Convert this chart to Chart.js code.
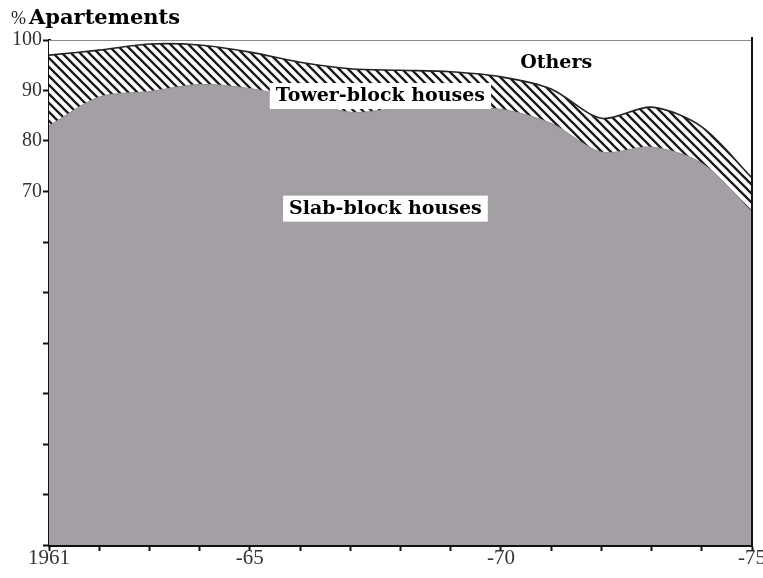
<!DOCTYPE html>
<html>
<head>
<meta charset="UTF-8">
<title>Apartements</title>
<style>
  html, body { margin: 0; padding: 0; background: #fff; }
  #chart { display: block; }
</style>
<script src="https://cdn.jsdelivr.net/npm/chart.js"></script>
</head>
<body>
<canvas id="chart" width="763" height="578"></canvas>
<script>
// data (share of apartements, %)
const years = [1961, 1962, 1963, 1964, 1965, 1966, 1967, 1968, 1969, 1970, 1971, 1972, 1973, 1974, 1975];
const slabBlock  = [83, 88.7, 89.8, 91.2, 90.4, 88.3, 85.7, 86.5, 86.5, 86.3, 83.5, 77.8, 78.8, 75.6, 66];
const towerBlock = [14, 9.3, 9.4, 7.8, 7.2, 7.3, 8.6, 7.5, 7.2, 6.4, 6.8, 6.7, 7.9, 7.2, 6.7];
const others     = [3, 2, 0.8, 1, 2.4, 4.4, 5.7, 6, 6.3, 7.3, 9.7, 15.5, 13.3, 17.2, 27.3];

const yLabelValues = [70, 80, 90, 100];
const xLabelYears = [1961, 1965, 1970, 1975];
const xLabelTexts = ['1961', '-65', '-70', '-75'];

// text labels placed in data coordinates [year, value]
const seriesLabels = [
  { text: 'Others', at: [1971.1, 95.4], box: false },
  { text: 'Tower-block houses', at: [1967.6, 88.9], box: true },
  { text: 'Slab-block houses', at: [1967.7, 66.6], box: true }
];

function hatch() {
  const c = document.createElement('canvas');
  c.width = 9; c.height = 9;
  const g = c.getContext('2d');
  g.fillStyle = '#fff';
  g.fillRect(0, 0, 9, 9);
  g.strokeStyle = '#1a1a1a';
  g.lineWidth = 2.3;
  g.beginPath();
  g.moveTo(-2, -2); g.lineTo(11, 11);
  g.moveTo(-2, 7); g.lineTo(2, 11);
  g.moveTo(7, -2); g.lineTo(11, 2);
  g.stroke();
  return g.createPattern(c, 'repeat');
}

const labelFont = 'bold 19px "DejaVu Serif", serif';

const decorations = {
  id: 'decorations',
  afterDatasetsDraw(chart) {
    const { ctx, chartArea, scales } = chart;
    ctx.save();
    // right frame line
    ctx.strokeStyle = '#111';
    ctx.lineWidth = 2;
    ctx.beginPath();
    ctx.moveTo(chartArea.right, chartArea.top - 3);
    ctx.lineTo(chartArea.right, chartArea.bottom);
    ctx.stroke();

    ctx.font = labelFont;
    ctx.textAlign = 'center';
    ctx.textBaseline = 'middle';
    seriesLabels.forEach(l => {
      const x = scales.x.getPixelForValue(l.at[0]);
      const y = scales.y.getPixelForValue(l.at[1]);
      if (l.box) {
        const w = ctx.measureText(l.text).width + 12;
        ctx.fillStyle = '#fff';
        ctx.fillRect(x - w / 2, y - 13, w, 26);
      }
      ctx.fillStyle = '#000';
      ctx.fillText(l.text, x, y);
    });

    // axis title
    ctx.textAlign = 'left';
    ctx.textBaseline = 'alphabetic';
    ctx.font = '18px "Liberation Serif", serif';
    ctx.fillStyle = '#222';
    ctx.fillText('%', 11, 24);
    ctx.font = 'bold 21px "DejaVu Serif", serif';
    ctx.fillStyle = '#000';
    ctx.fillText('Apartements', 29, 24);
    ctx.restore();
  }
};

new Chart(document.getElementById('chart'), {
  type: 'line',
  data: {
    labels: years,
    datasets: [
      {
        label: 'Slab-block houses',
        data: years.map((y, i) => ({ x: y, y: slabBlock[i] })),
        fill: 'origin',
        backgroundColor: '#a39fa4',
        borderColor: '#8f8b90',
        borderWidth: 1,
        pointRadius: 0,
        tension: 0.3
      },
      {
        label: 'Tower-block houses',
        data: years.map((y, i) => ({ x: y, y: towerBlock[i] })),
        fill: '-1',
        backgroundColor: hatch(),
        borderColor: '#222',
        borderWidth: 1.6,
        pointRadius: 0,
        tension: 0.3
      },
      {
        label: 'Others',
        data: years.map((y, i) => ({ x: y, y: others[i] })),
        fill: '-1',
        backgroundColor: '#fff',
        borderColor: '#888',
        borderWidth: 2,
        pointRadius: 0,
        tension: 0
      }
    ]
  },
  options: {
    responsive: false,
    animation: false,
    layout: { padding: { top: 40, right: 11, left: 0, bottom: 0 } },
    plugins: { legend: { display: false }, tooltip: { enabled: false } },
    scales: {
      x: {
        type: 'linear',
        min: 1961,
        max: 1975,
        ticks: {
          stepSize: 1,
          autoSkip: false,
          maxRotation: 0,
          padding: -5,
          color: '#333',
          font: { family: '"Liberation Serif", serif', size: 21 },
          callback: v => {
            const i = xLabelYears.indexOf(v);
            return i >= 0 ? xLabelTexts[i] : '';
          }
        },
        grid: { drawOnChartArea: false, drawTicks: true, tickLength: 6, tickWidth: 2, tickColor: '#111' },
        border: { display: true, color: '#111', width: 3 },
        afterFit: s => { s.height = 33; s.paddingLeft = 0; s.paddingRight = 0; }
      },
      y: {
        stacked: true,
        min: 0,
        max: 100,
        ticks: {
          stepSize: 10,
          autoSkip: false,
          padding: 1,
          color: '#333',
          font: { family: '"Liberation Serif", serif', size: 20 },
          callback: v => yLabelValues.includes(v) ? String(v) : ''
        },
        grid: { drawOnChartArea: false, drawTicks: true, tickLength: 6, tickWidth: 2, tickColor: '#111' },
        border: { display: true, color: '#111', width: 3 },
        afterFit: s => { s.width = 49; s.paddingTop = 0; s.paddingBottom = 0; }
      }
    }
  },
  plugins: [decorations]
});
</script>
</body>
</html>
